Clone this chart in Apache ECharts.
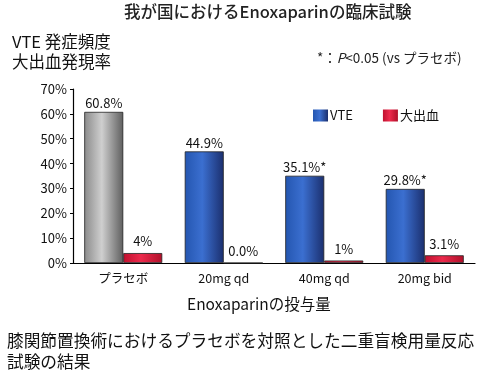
<!DOCTYPE html>
<html><head><meta charset="utf-8">
<script src="https://cdn.jsdelivr.net/npm/echarts@6/dist/echarts.min.js"></script>
<style>html,body{margin:0;padding:0;background:#fff;}#c{width:480px;height:379px;}</style>
</head><body><div id="c"></div>
<script>
const categories = ['プラセボ', '20mg qd', '40mg qd', '20mg bid'];
const vteValues = [60.8, 44.9, 35.1, 29.8];
const vteLabels = ['60.8%', '44.9%', '35.1%*', '29.8%*'];
const bleedValues = [4, 0.0, 1, 3.1];
const bleedLabels = ['4%', '0.0%', '1%', '3.1%'];
const yTicks = [0, 10, 20, 30, 40, 50, 60, 70];

const FONT = '"Noto Sans CJK JP", "Noto Sans", sans-serif';
function grad(c0, c1, c2) {
  return new echarts.graphic.LinearGradient(0, 0, 1, 0, [
    {offset: 0, color: c0}, {offset: 0.45, color: c1}, {offset: 1, color: c2}
  ]);
}
const blueGrad = grad('#2456b0', '#3b6fd0', '#1b2f6e');
const grayGrad = grad('#8a8a8a', '#cfcfcf', '#5e5e5e');
const redGrad = grad('#c0102e', '#ec2a4c', '#b0102a');

const chart = echarts.init(document.getElementById('c'), null, {renderer: 'canvas'});
chart.setOption({
  animation: false,
  backgroundColor: '#fff',
  textStyle: {fontFamily: FONT},
  graphic: [
    {type: 'text', left: 124, top: 3, style: {text: '我が国におけるEnoxaparinの臨床試験', fontSize: 16.5, fontWeight: 500, fill: '#222', fontFamily: FONT}},
    {type: 'text', left: 12, top: 33, style: {text: 'VTE 発症頻度', fontSize: 16.5, fill: '#111', fontFamily: FONT}},
    {type: 'text', left: 12, top: 53, style: {text: '大出血発現率', fontSize: 16.5, fill: '#111', fontFamily: FONT}},
    {type: 'text', left: 317, top: 51, style: {
      text: '{a|*：}{i|P}{a|<0.05 (vs プラセボ)}',
      rich: {
        a: {fontSize: 13.5, fill: '#222', fontFamily: FONT},
        i: {fontSize: 13.5, fill: '#222', fontFamily: FONT, fontStyle: 'italic'}
      }
    }},
    {type: 'text', left: 187, top: 296, style: {text: 'Enoxaparinの投与量', fontSize: 15.5, fill: '#111', fontFamily: FONT}},
    {type: 'text', left: 7, top: 330, style: {text: '膝関節置換術におけるプラセボを対照とした二重盲検用量反応\n試験の結果', fontSize: 16.7, lineHeight: 21, fill: '#111', fontFamily: FONT}}
  ],
  legend: {
    data: [
      {name: 'VTE', itemStyle: {color: blueGrad}},
      {name: '大出血', itemStyle: {color: redGrad}}
    ],
    left: 308, top: 104, itemWidth: 15, itemHeight: 12, itemGap: 30,
    icon: 'rect',
    textStyle: {fontSize: 13, color: '#111', fontFamily: FONT, padding: [0, 0, 0, -3]}
  },
  grid: {left: 73, right: 5, top: 89, bottom: 116},
  xAxis: {
    type: 'category', data: categories,
    axisLine: {lineStyle: {color: '#000', width: 1.2}},
    axisTick: {show: false},
    axisLabel: {fontSize: 12.5, color: '#111', margin: 9, fontFamily: FONT}
  },
  yAxis: {
    type: 'value', min: 0, max: 70, interval: 10,
    splitLine: {show: false},
    axisLine: {show: true, lineStyle: {color: '#000', width: 1.2}},
    axisTick: {show: true, length: 3, lineStyle: {color: '#000'}},
    axisLabel: {formatter: v => yTicks.includes(v) ? v + '%' : '', fontSize: 13, color: '#111', margin: 6, fontFamily: FONT}
  },
  series: [
    {
      name: 'VTE', type: 'bar', barWidth: 39, barGap: '0%',
      data: vteValues.map((v, i) => ({
        value: v,
        itemStyle: {color: i === 0 ? grayGrad : blueGrad, borderColor: '#222', borderWidth: 0.8}
      })),
      label: {show: true, position: 'top', distance: 2, fontSize: 13, color: '#111', fontFamily: FONT,
        formatter: p => vteLabels[p.dataIndex]}
    },
    {
      name: '大出血', type: 'bar', barWidth: 39,
      data: bleedValues.map(v => ({value: v, itemStyle: {color: redGrad, borderColor: '#222', borderWidth: 0.8}})),
      label: {show: true, position: 'top', distance: 5, fontSize: 13, color: '#111', fontFamily: FONT,
        formatter: p => bleedLabels[p.dataIndex]}
    }
  ]
});
</script></body></html>
